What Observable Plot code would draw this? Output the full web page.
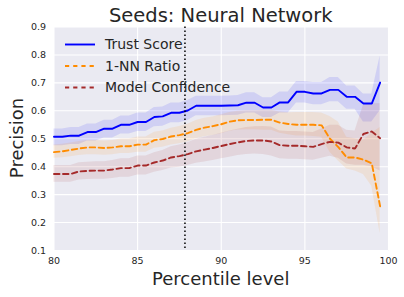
<!DOCTYPE html>
<html>
<head>
<meta charset="utf-8">
<script src="https://cdn.jsdelivr.net/npm/d3@7"></script>
<script src="https://cdn.jsdelivr.net/npm/@observablehq/plot@0.6"></script>
<style>
  html, body { margin: 0; padding: 0; background: #fff; }
  #chart { width: 404px; height: 297px; }
</style>
</head>
<body>
<div id="chart"></div>
<script>
// ---- data ----
const percentiles = [80, 80.5, 81, 81.5, 82, 82.5, 83, 83.5, 84, 84.5, 85, 85.5, 86, 86.5, 87, 87.5, 88, 88.5, 89, 89.5,
                     90, 90.5, 91, 91.5, 92, 92.5, 93, 93.5, 94, 94.5, 95, 95.5, 96, 96.5, 97, 97.5, 98, 98.5, 99, 99.5];

const trustScore = [0.507, 0.507, 0.511, 0.511, 0.524, 0.524, 0.536, 0.536, 0.550, 0.550, 0.560, 0.560, 0.578, 0.580, 0.593, 0.593, 0.601, 0.618, 0.618, 0.618,
                    0.618, 0.619, 0.620, 0.629, 0.629, 0.612, 0.612, 0.630, 0.630, 0.668, 0.668, 0.662, 0.662, 0.675, 0.675, 0.650, 0.650, 0.626, 0.626, 0.701];
const trustLo    = [0.475, 0.475, 0.479, 0.479, 0.492, 0.492, 0.503, 0.503, 0.517, 0.517, 0.526, 0.526, 0.543, 0.545, 0.557, 0.557, 0.565, 0.582, 0.582, 0.582,
                    0.582, 0.583, 0.584, 0.592, 0.592, 0.576, 0.576, 0.592, 0.592, 0.628, 0.628, 0.622, 0.622, 0.632, 0.632, 0.606, 0.606, 0.560, 0.560, 0.600];
const trustHi    = [0.535, 0.535, 0.540, 0.540, 0.553, 0.553, 0.566, 0.566, 0.581, 0.581, 0.592, 0.592, 0.612, 0.614, 0.628, 0.628, 0.637, 0.652, 0.652, 0.652,
                    0.652, 0.653, 0.655, 0.665, 0.665, 0.647, 0.647, 0.667, 0.667, 0.705, 0.705, 0.701, 0.701, 0.719, 0.719, 0.689, 0.689, 0.660, 0.660, 0.796];

const nnRatio    = [0.452, 0.455, 0.460, 0.465, 0.469, 0.469, 0.467, 0.469, 0.473, 0.473, 0.479, 0.479, 0.495, 0.499, 0.508, 0.513, 0.520, 0.532, 0.540, 0.545,
                    0.552, 0.561, 0.566, 0.567, 0.567, 0.568, 0.568, 0.558, 0.553, 0.550, 0.550, 0.550, 0.548, 0.500, 0.470, 0.433, 0.433, 0.425, 0.412, 0.258];
const nnLo       = [0.430, 0.432, 0.436, 0.440, 0.443, 0.443, 0.441, 0.443, 0.447, 0.447, 0.452, 0.452, 0.466, 0.470, 0.478, 0.482, 0.488, 0.500, 0.507, 0.512,
                    0.518, 0.527, 0.531, 0.532, 0.532, 0.530, 0.530, 0.520, 0.514, 0.510, 0.510, 0.508, 0.505, 0.452, 0.420, 0.392, 0.385, 0.372, 0.330, 0.160];
const nnHi       = [0.478, 0.480, 0.485, 0.490, 0.494, 0.494, 0.492, 0.494, 0.499, 0.499, 0.506, 0.506, 0.523, 0.528, 0.538, 0.544, 0.552, 0.565, 0.573, 0.578,
                    0.586, 0.594, 0.598, 0.600, 0.600, 0.602, 0.602, 0.596, 0.593, 0.594, 0.594, 0.594, 0.592, 0.580, 0.560, 0.505, 0.500, 0.495, 0.520, 0.540];

const modelConf  = [0.374, 0.374, 0.374, 0.383, 0.385, 0.386, 0.386, 0.390, 0.395, 0.395, 0.404, 0.404, 0.415, 0.422, 0.433, 0.438, 0.445, 0.455, 0.461, 0.467,
                    0.474, 0.481, 0.487, 0.492, 0.494, 0.494, 0.490, 0.477, 0.475, 0.475, 0.473, 0.471, 0.481, 0.489, 0.486, 0.469, 0.465, 0.517, 0.526, 0.502];
const confLo     = [0.344, 0.344, 0.344, 0.352, 0.354, 0.355, 0.355, 0.358, 0.362, 0.362, 0.370, 0.370, 0.380, 0.386, 0.395, 0.398, 0.404, 0.412, 0.417, 0.422,
                    0.428, 0.434, 0.440, 0.444, 0.445, 0.444, 0.438, 0.428, 0.427, 0.427, 0.425, 0.423, 0.430, 0.437, 0.430, 0.410, 0.405, 0.405, 0.400, 0.385];
const confHi     = [0.404, 0.404, 0.404, 0.414, 0.416, 0.418, 0.418, 0.422, 0.428, 0.428, 0.438, 0.438, 0.450, 0.458, 0.471, 0.478, 0.486, 0.498, 0.505, 0.512,
                    0.520, 0.528, 0.534, 0.540, 0.543, 0.544, 0.542, 0.528, 0.526, 0.526, 0.524, 0.522, 0.535, 0.548, 0.548, 0.530, 0.528, 0.620, 0.625, 0.625];

const cutoff = [87.83];
const xTicks = [80, 85, 90, 95, 100];
const yTicks = [0.1, 0.2, 0.3, 0.4, 0.5, 0.6, 0.7, 0.8, 0.9];

const seriesNames  = ["Trust Score", "1-NN Ratio", "Model Confidence"];
const seriesColors = ["#0000ff", "#ff8c00", "#a52a2a"];
const titleText = "Seeds: Neural Network";
const xLabel = "Percentile level";
const yLabel = "Precision";

// ---- table ----
const series = [
  {name: seriesNames[0], color: seriesColors[0], dash: null,    v: trustScore, lo: trustLo, hi: trustHi},
  {name: seriesNames[1], color: seriesColors[1], dash: "5.5,3.5", v: nnRatio,  lo: nnLo,    hi: nnHi},
  {name: seriesNames[2], color: seriesColors[2], dash: "5.5,3.5", v: modelConf, lo: confLo, hi: confHi}
];
const tables = series.map(s => percentiles.map((p, i) => ({x: p, y: s.v[i], lo: s.lo[i], hi: s.hi[i]})));

const FONT = "DejaVu Sans, sans-serif";
const TEXT = "#262626";

const marks = [
  Plot.frame({fill: "#EAEAF2", stroke: null}),
  Plot.gridX(xTicks, {stroke: "white", strokeOpacity: 1, strokeWidth: 1.1}),
  Plot.gridY(yTicks, {stroke: "white", strokeOpacity: 1, strokeWidth: 1.1}),
];
series.forEach((s, k) => {
  marks.push(Plot.areaY(tables[k], {x: "x", y1: "lo", y2: "hi", fill: s.color, fillOpacity: 0.11, curve: "linear"}));
});
series.forEach((s, k) => {
  marks.push(Plot.line(tables[k], {x: "x", y: "y", stroke: s.color, strokeWidth: 1.9,
    strokeDasharray: s.dash || undefined, strokeLinejoin: "miter"}));
});
marks.push(Plot.ruleX(cutoff, {stroke: "black", strokeWidth: 1.5, strokeDasharray: "1.5,2.5"}));
marks.push(Plot.axisX(xTicks, {tickSize: 0, tickPadding: 7, tickFormat: d => String(d), label: null, fontSize: 9.5, fill: TEXT}));
marks.push(Plot.axisY(yTicks, {tickSize: 0, tickPadding: 8, tickFormat: d3.format(".1f"), label: null, fontSize: 9.5, fill: TEXT}));

const chart = Plot.plot({
  width: 404,
  height: 297,
  marginTop: 26.5,
  marginBottom: 47,
  marginLeft: 53.5,
  marginRight: 16,
  x: {domain: [80, 100]},
  y: {domain: [0.1, 0.9]},
  style: {fontFamily: FONT, background: "white", color: TEXT, overflow: "visible"},
  marks
});

const svg = d3.select(chart);
// title
svg.append("text").attr("x", 220.75).attr("y", 22).attr("text-anchor", "middle")
  .attr("font-family", FONT).attr("font-size", 19.5).attr("fill", TEXT).text(titleText);
// x label
svg.append("text").attr("x", 220.75).attr("y", 285).attr("text-anchor", "middle")
  .attr("font-family", FONT).attr("font-size", 18).attr("fill", TEXT).text(xLabel);
// y label
svg.append("text").attr("transform", "translate(23,138) rotate(-90)").attr("text-anchor", "middle")
  .attr("font-family", FONT).attr("font-size", 18).attr("fill", TEXT).text(yLabel);
// legend
const lg = svg.append("g").attr("text-anchor", "start");
series.forEach((s, k) => {
  const y = 44.5 + k * 21.5;
  lg.append("line").attr("x1", 65).attr("x2", 95).attr("y1", y).attr("y2", y)
    .attr("stroke", s.color).attr("stroke-width", 1.9)
    .attr("stroke-dasharray", s.dash ? "4.2,4" : null);
  lg.append("text").attr("x", 105).attr("y", y).attr("dy", "0.35em").attr("text-anchor", "start")
    .attr("font-family", FONT).attr("font-size", 14).attr("fill", TEXT).text(s.name);
});

document.getElementById("chart").appendChild(chart);
</script>
</body>
</html>
